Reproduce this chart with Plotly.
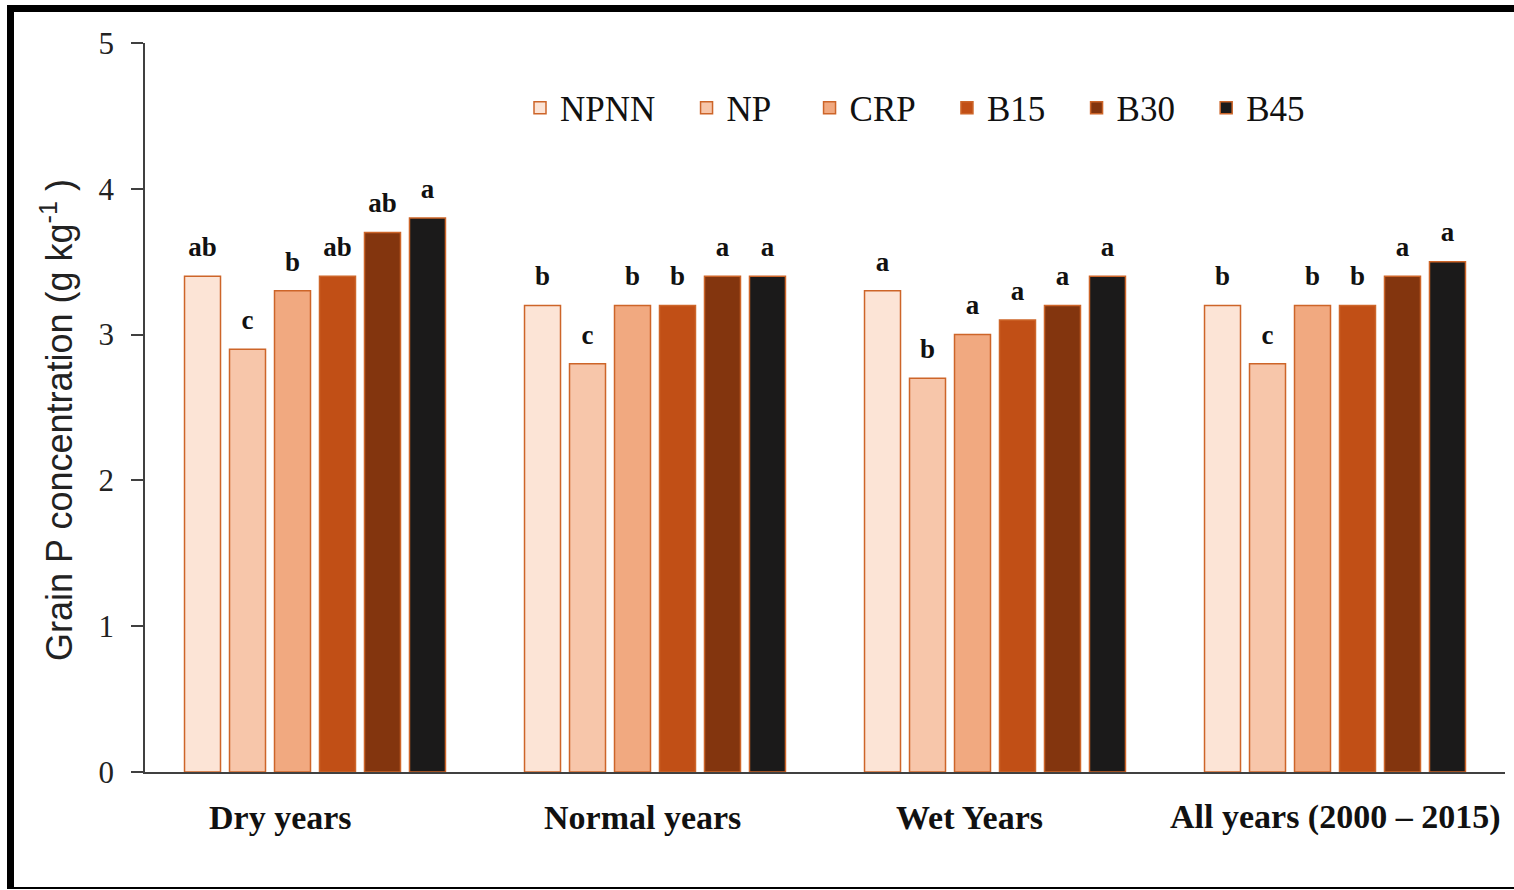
import plotly.graph_objects as go

# Grain P concentration by rainfall period and fertiliser treatment
periods = ["Dry years", "Normal years", "Wet Years", "All years (2000 – 2015)"]
treatments = ["NPNN", "NP", "CRP", "B15", "B30", "B45"]

npnn = [3.4, 3.2, 3.3, 3.2]
np_ = [2.9, 2.8, 2.7, 2.8]
crp = [3.3, 3.2, 3.0, 3.2]
b15 = [3.4, 3.2, 3.1, 3.2]
b30 = [3.7, 3.4, 3.2, 3.4]
b45 = [3.8, 3.4, 3.4, 3.5]

# significance letters (same order as the values)
npnn_sig = ["ab", "b", "a", "b"]
np_sig = ["c", "c", "b", "c"]
crp_sig = ["b", "b", "a", "b"]
b15_sig = ["ab", "b", "a", "b"]
b30_sig = ["ab", "a", "a", "a"]
b45_sig = ["a", "a", "a", "a"]

y_ticks = [0, 1, 2, 3, 4, 5]

series = [npnn, np_, crp, b15, b30, b45]
letters = [npnn_sig, np_sig, crp_sig, b15_sig, b30_sig, b45_sig]
fills = ["#fce4d6", "#f7c6aa", "#f1a980", "#c14f16", "#83350e", "#1b1a1a"]
edge = "#cd6529"

W, H = 1514, 890
M_L, M_R, M_T, M_B = 145, 9, 43, 118
PW, PH = W - M_L - M_R, H - M_T - M_B
BAR_GAP = 0.206

# horizontal nudges of the period labels under the axis
label_shift = [-35, -13, -26, 0]

# trailing space after each legend entry
pad = "\u00a0\u00a0\u00a0"
legend_pad = [pad, pad + "\u2009", pad, pad, pad, pad]

fig = go.Figure()
for name, vals, col, tail in zip(treatments, series, fills, legend_pad):
    fig.add_trace(go.Bar(
        x=periods, y=vals, name=name + tail,
        marker=dict(color=col, line=dict(color=edge, width=1.5)),
    ))

# letters placed above each bar, aligned with the grouped bars
for name, vals, sig in zip(treatments, series, letters):
    fig.add_trace(go.Scatter(
        x=periods, y=vals, text=sig, mode="markers+text",
        textposition="top center",
        marker=dict(size=20, opacity=0),
        textfont=dict(family="Liberation Serif", size=27, color="#111111", weight="bold"),
        showlegend=False, hoverinfo="skip",
    ))


def px_x(px):
    return (px - M_L) / PW


def px_y(py):
    return (H - M_B - py) / PH


annotations = []
for p, dx in zip(periods, label_shift):
    annotations.append(dict(
        x=p, xref="x", y=px_y(817), yref="paper", xshift=dx,
        text=p, showarrow=False, xanchor="center", yanchor="middle",
        font=dict(family="Liberation Serif", size=34, color="#111111", weight="bold"),
    ))
annotations.append(dict(
    x=px_x(57), xref="paper", y=px_y(420), yref="paper",
    text="Grain P concentration (g kg<sup>-1</sup> )", textangle=-90,
    showarrow=False, xanchor="center", yanchor="middle",
    font=dict(family="Liberation Sans", size=36, color="#222222"),
))

frame = "#000000"
shapes = [
    dict(type="line", xref="paper", yref="paper",
         x0=px_x(10.5), x1=px_x(10.5), y0=px_y(5), y1=px_y(889),
         line=dict(color=frame, width=7)),
    dict(type="line", xref="paper", yref="paper",
         x0=px_x(7), x1=px_x(1520), y0=px_y(8.5), y1=px_y(8.5),
         line=dict(color=frame, width=7)),
    dict(type="line", xref="paper", yref="paper",
         x0=px_x(7), x1=px_x(1520), y0=px_y(888), y1=px_y(888),
         line=dict(color=frame, width=2)),
]

fig.update_layout(
    width=W, height=H,
    margin=dict(l=M_L, r=M_R, t=M_T, b=M_B, pad=0),
    paper_bgcolor="white", plot_bgcolor="white",
    barmode="group", bargap=BAR_GAP, bargroupgap=0.2,
    scattermode="group", scattergap=BAR_GAP,
    shapes=shapes, annotations=annotations,
    showlegend=True,
    legend=dict(
        orientation="h", x=px_x(520), xanchor="left", y=px_y(108), yanchor="middle",
        font=dict(family="Liberation Serif", size=35, color="#111111"),
        bgcolor="rgba(0,0,0,0)", itemclick=False, itemdoubleclick=False,
    ),
    xaxis=dict(
        showline=True, linecolor="#404040", linewidth=1.5,
        ticks="", showgrid=False, zeroline=False, showticklabels=False,
    ),
    yaxis=dict(
        range=[0, 5], tickvals=y_ticks,
        showline=True, linecolor="#404040", linewidth=1.5,
        ticks="outside", ticklen=12, tickwidth=1.5, tickcolor="#404040",
        showgrid=False, zeroline=False,
        tickfont=dict(family="Liberation Serif", size=31, color="#222222"),
        ticklabelstandoff=11,
    ),
)

fig.write_html("out.html")
